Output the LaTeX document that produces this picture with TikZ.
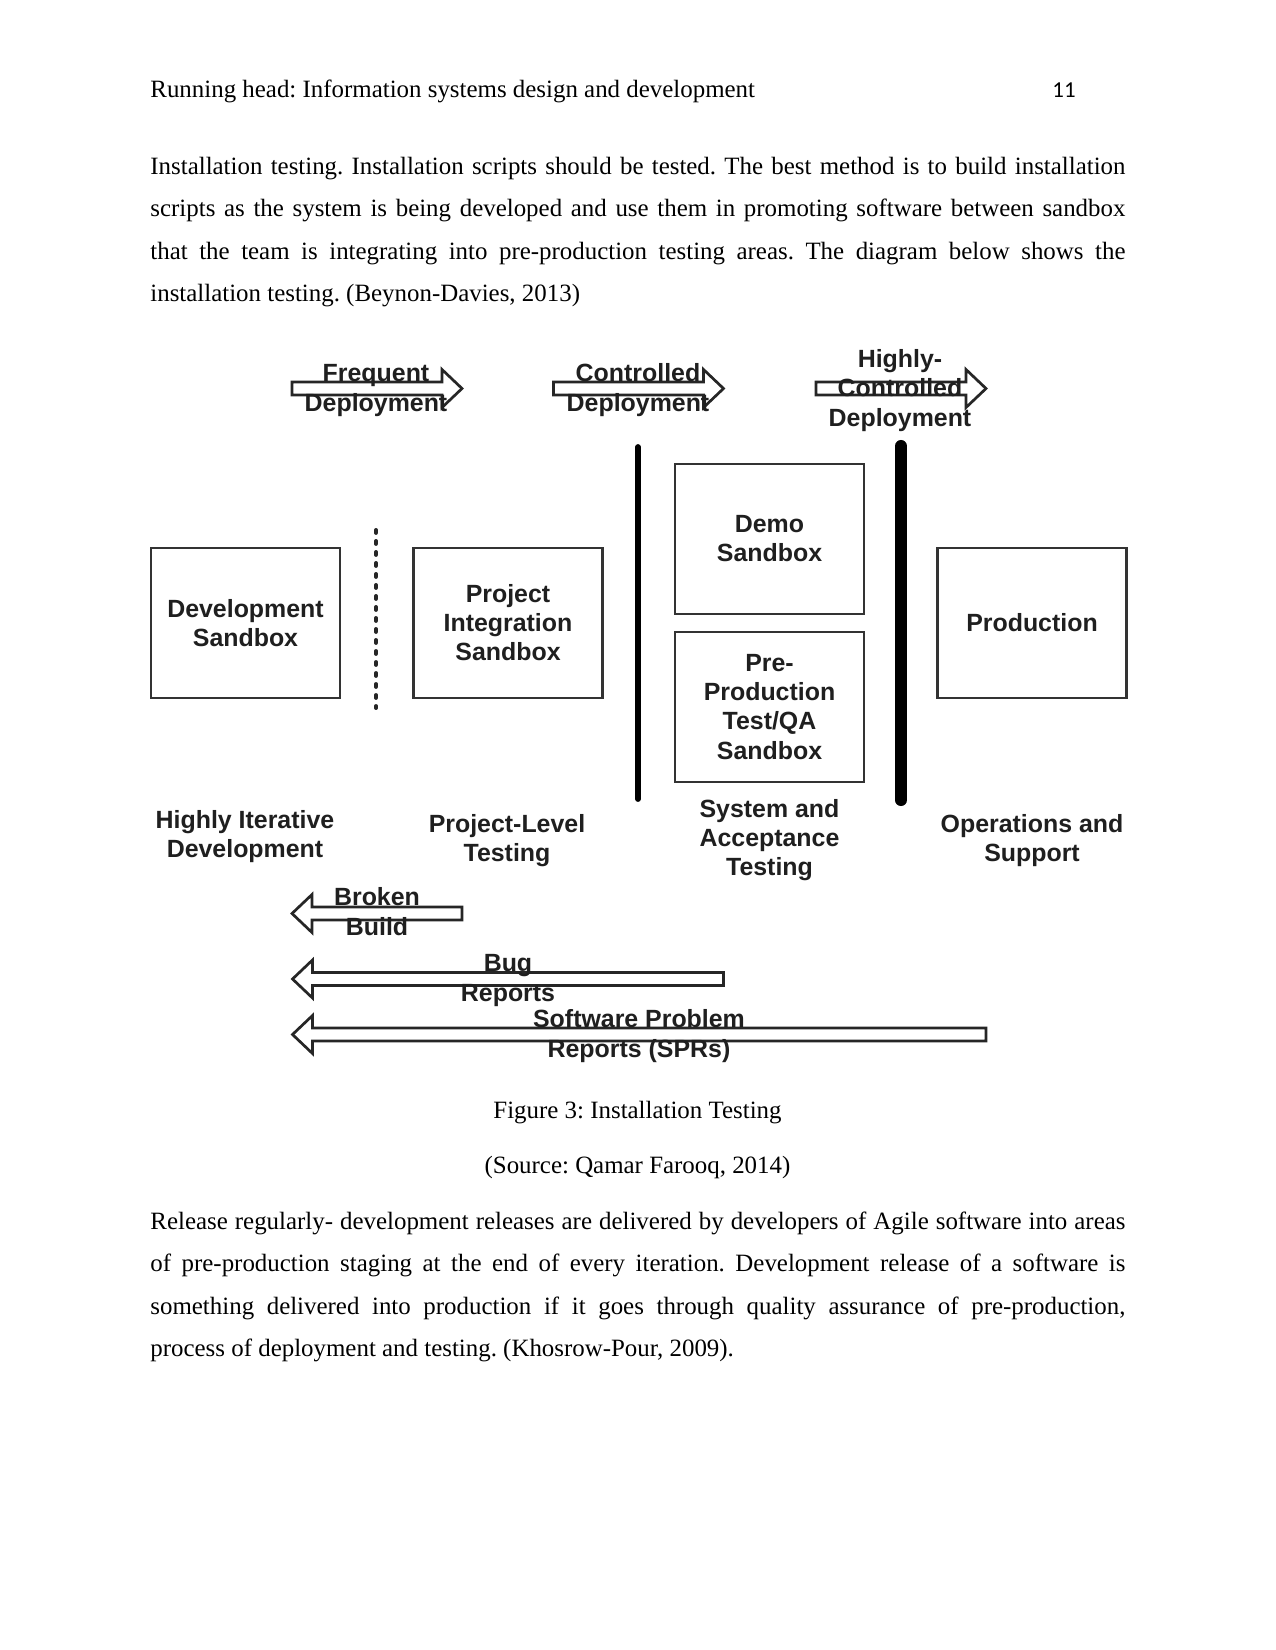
\documentclass[tikz,border=0pt]{standalone}
\usepackage{fontspec}
\setmainfont{Liberation Serif}
\newfontfamily\diagfont{Liberation Sans}
\newfontfamily\pagenumfont{Carlito}
\usetikzlibrary{positioning}
\frenchspacing
% hollow block arrows: left x / tip x, centre y, length
\newcommand{\rightblock}[3]{\draw[blockarr] (#1,#2-6.5) -- (#1+#3-20,#2-6.5) -- ++(0,-12.5) -- (#1+#3,#2) -- (#1+#3-20,#2+19) -- ++(0,-12.5) -- (#1,#2+6.5) -- cycle;}
\newcommand{\leftblock}[3]{\draw[blockarr] (#1+#3,#2-6.5) -- (#1+20,#2-6.5) -- ++(0,-12.5) -- (#1,#2) -- (#1+20,#2+19) -- ++(0,-12.5) -- (#1+#3,#2+6.5) -- cycle;}

\begin{document}
\begin{tikzpicture}[
  x=0.16933mm, y=-0.16933mm,
  body/.style={inner sep=0, font=\fontsize{12}{20.5}\selectfont},
  para/.style={body, text width=6.5in, align=justify},
  sandbox/.style={draw=black!80, line width=1pt, minimum width=32mm, minimum height=25.4mm, align=center, inner sep=2pt,
    text=black!88, font=\diagfont\bfseries\fontsize{12}{14}\selectfont},
  lbl/.style={align=center, inner sep=0, text=black!88, font=\diagfont\bfseries\fontsize{12}{14}\selectfont},
  blockarr/.style={draw=black!85, line width=1.3pt, line join=miter},
  gate/.style={draw=black, line cap=round},
  sepdots/.style={draw=black!85, line width=1.9pt, line cap=round, dash pattern=on 1.4pt off 3.9pt}
]
\fill[white] (0,0) rectangle (1275,1650);
\useasboundingbox (0,0) rectangle (1275,1650);

% page text
\node[body, anchor=base west] (head) at (150,97.5) {Running head: Information systems design and development};
\node[inner sep=0, anchor=base west, font=\pagenumfont\fontsize{11}{13}\selectfont] (pnum) at (1052,97.5) {11};
\node[para, anchor=base west] (intro) at (150,174.3) {Installation testing. Installation scripts should be tested. The best method is to build installation\linebreak
scripts as the system is being developed and use them in promoting software between sandbox\linebreak
that the team is integrating into pre-production testing areas. The diagram below shows the\linebreak
installation testing. (Beynon-Davies, 2013)};

% deployment arrows
\rightblock{292}{388.5}{170}
\rightblock{553.5}{388.5}{170}
\rightblock{816}{388.5}{170}
\node[lbl, anchor=base] (frequent) at (376,411) {Frequent\\Deployment};
\node[lbl, anchor=base] (controlled) at (638,411) {Controlled\\Deployment};
\node[lbl, anchor=base] (highctrl) at (900,426) {Highly-\\Controlled\\Deployment};

% sandboxes
\node[sandbox] (dev) at (245.5,623) {Development\\Sandbox};
\node[sandbox] (integ) at (508,623) {Project\\Integration\\Sandbox};
\node[sandbox] (demo) at (769.5,539) {Demo\\Sandbox};
\node[sandbox] (preprod) at (769.5,707) {Pre-\\Production\\Test/QA\\Sandbox};
\node[sandbox] (prod) at (1032,623) {Production};

% separators
\draw[sepdots] (376,530) -- (376,708);
\draw[gate, line width=2.8pt] (638,447) -- (638,799);
\draw[gate, line width=5.8pt] (901,446) -- (901,800);

% stage labels
\node[lbl] (iterative) at (245,837) {Highly Iterative\\Development};
\node[lbl] (projtest) at (507,841) {Project-Level\\Testing};
\node[lbl] (systest) at (769.5,840.5) {System and\\Acceptance\\Testing};
\node[lbl] (ops) at (1032,841) {Operations and\\Support};

% feedback arrows
\leftblock{292}{913.5}{170}
\leftblock{292.5}{979}{431}
\leftblock{292.5}{1034.5}{693.5}
\node[lbl, anchor=base] (broken) at (377,935) {Broken\\Build};
\node[lbl, anchor=base] (bugs) at (508,1001) {Bug\\Reports};
\node[lbl, anchor=base] (sprs) at (639,1057) {Software Problem\\Reports (SPRs)};

% caption and closing paragraph
\node[body, anchor=base] (caption) at (637.5,1118) {Figure 3: Installation Testing};
\node[body, anchor=base] (source) at (637.5,1173) {(Source: Qamar Farooq, 2014)};
\node[para, anchor=base west] (release) at (150,1229) {Release regularly- development releases are delivered by developers of Agile software into areas\linebreak
of pre-production staging at the end of every iteration. Development release of a software is\linebreak
something delivered into production if it goes through quality assurance of pre-production,\linebreak
process of deployment and testing. (Khosrow-Pour, 2009).};
\end{tikzpicture}
\end{document}
